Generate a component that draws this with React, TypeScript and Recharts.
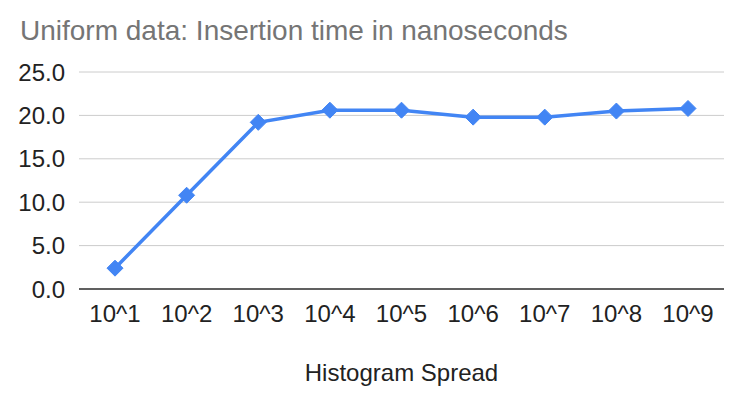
import { LineChart, Line, XAxis, YAxis, CartesianGrid, Label } from 'recharts'

const spreads = ['10^1', '10^2', '10^3', '10^4', '10^5', '10^6', '10^7', '10^8', '10^9']
const insertNs = [2.4, 10.8, 19.2, 20.6, 20.6, 19.8, 19.8, 20.5, 20.8]
const yTicks = [0, 5, 10, 15, 20, 25]

const data = spreads.map((label, i) => ({ label, value: insertNs[i] }))

const FONT = '"Liberation Sans", Arial, sans-serif'
const BLUE = '#4285F4'

// diamond marker like the sheets chart
function Diamond(props: any) {
  const { cx, cy, index } = props
  if (cx == null || cy == null) return null
  const r = 8
  return (
    <polygon
      key={`d-${index}`}
      points={`${cx},${cy - r} ${cx + r},${cy} ${cx},${cy + r} ${cx - r},${cy}`}
      fill={BLUE}
      stroke={BLUE}
    />
  )
}

export default function App() {
  return (
    <div style={{ width: 746, height: 406, position: 'relative', background: '#fff' }}>
      <style>{'body{margin:0}'}</style>
      <div
        style={{
          position: 'absolute',
          left: 20,
          top: 15,
          fontFamily: FONT,
          fontSize: 28,
          color: '#757575',
          whiteSpace: 'nowrap',
        }}
      >
        Uniform data: Insertion time in nanoseconds
      </div>
      <LineChart
        width={746}
        height={406}
        data={data}
        margin={{ top: 72, right: 22, bottom: 0, left: 0 }}
        style={{ fontFamily: FONT }}
      >
        <CartesianGrid stroke="#cccccc" vertical={false} />
        <XAxis
          dataKey="label"
          height={117}
          padding={{ left: 36, right: 36 }}
          tick={{ fill: '#222', fontSize: 24 }}
          tickLine={false}
          tickMargin={10}
          interval={0}
          axisLine={{ stroke: '#333', strokeWidth: 1.5 }}
        >
          <Label
            value="Histogram Spread"
            position="insideBottom"
            offset={25}
            style={{ fill: '#222', fontSize: 24 }}
          />
        </XAxis>
        <YAxis
          width={79}
          domain={[0, 25]}
          ticks={yTicks}
          tickFormatter={(v) => v.toFixed(1)}
          tick={{ fill: '#222', fontSize: 24 }}
          tickLine={false}
          axisLine={false}
          tickMargin={8}
        />
        <Line
          type="linear"
          dataKey="value"
          stroke={BLUE}
          strokeWidth={3.5}
          dot={Diamond}
          activeDot={false}
          isAnimationActive={false}
        />
      </LineChart>
    </div>
  )
}
